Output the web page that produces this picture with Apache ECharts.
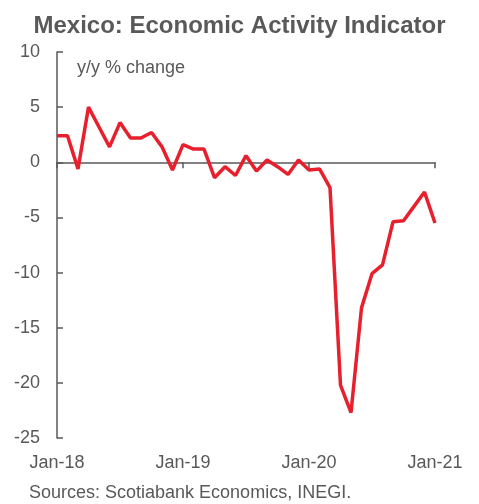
<!DOCTYPE html>
<html>
<head>
<meta charset="utf-8">
<script src="https://cdn.jsdelivr.net/npm/echarts@6/dist/echarts.min.js"></script>
<style>
  html, body { margin: 0; padding: 0; background: #fff; }
  #main { width: 479px; height: 504px; }
</style>
</head>
<body>
<div id="main"></div>
<script>
// monthly, Jan-18 .. Jan-21
const months = ['Jan','Feb','Mar','Apr','May','Jun','Jul','Aug','Sep','Oct','Nov','Dec']
const years = ['18','19','20']
const categories = []
years.forEach(y => months.forEach(m => categories.push(m + '-' + y)))
categories.push('Jan-21')

const yoyChange = [
  2.4, 2.4, -0.6, 5.0, 3.2, 1.4, 3.6, 2.2, 2.2, 2.7, 1.4, -0.7,
  1.6, 1.2, 1.2, -1.4, -0.4, -1.2, 0.6, -0.8, 0.2, -0.4, -1.1, 0.2,
  -0.7, -0.6, -2.3, -20.2, -22.7, -13.2, -10.1, -9.3, -5.4, -5.3, -4.0, -2.7,
  -5.5
]

const yTicks = { min: -25, max: 10, step: 5 }

const gray = '#595959'
const chart = echarts.init(document.getElementById('main'))

const option = {
  animation: false,
  title: {
    text: 'Mexico: Economic Activity Indicator',
    left: 'center',
    top: 9,
    textStyle: { fontFamily: 'Liberation Sans', fontSize: 24, fontWeight: 'bold', color: gray }
  },
  grid: { left: 57, right: 44, top: 52, bottom: 66 },
  xAxis: [{
    type: 'category',
    data: categories,
    boundaryGap: false,
    position: 'bottom',
    axisLine: { onZero: true, lineStyle: { color: gray, width: 1.5 } },
    axisTick: { show: true, interval: 11, length: 6, lineStyle: { color: gray, width: 1.5 } },
    axisLabel: { show: false },
    splitLine: { show: false }
  }, {
    type: 'category',
    data: categories,
    boundaryGap: false,
    position: 'bottom',
    axisLine: { show: false, onZero: false },
    axisTick: { show: false },
    axisLabel: {
      interval: 11,
      margin: 16,
      fontFamily: 'Liberation Sans',
      fontSize: 18,
      color: gray
    },
    splitLine: { show: false }
  }],
  yAxis: {
    type: 'value',
    min: yTicks.min,
    max: yTicks.max,
    interval: yTicks.step,
    axisLine: { show: true, lineStyle: { color: gray, width: 1.5 } },
    axisTick: { show: true, inside: true, length: 6, lineStyle: { color: gray, width: 1.5 } },
    axisLabel: { margin: 17, fontFamily: 'Liberation Sans', fontSize: 18, color: gray },
    splitLine: { show: false }
  },
  series: [{
    type: 'line',
    xAxisIndex: 0,
    data: yoyChange,
    symbol: 'none',
    lineStyle: { color: '#e8202e', width: 3.5 },
    z: 5
  }],
  graphic: [{
    type: 'text',
    left: 77,
    top: 59,
    style: { text: 'y/y % change', font: '18px "Liberation Sans"', fill: gray }
  }, {
    type: 'text',
    left: 29,
    top: 484,
    style: { text: 'Sources: Scotiabank Economics, INEGI.', font: '18px "Liberation Sans"', fill: gray }
  }]
}

chart.setOption(option)
</script>
</body>
</html>
